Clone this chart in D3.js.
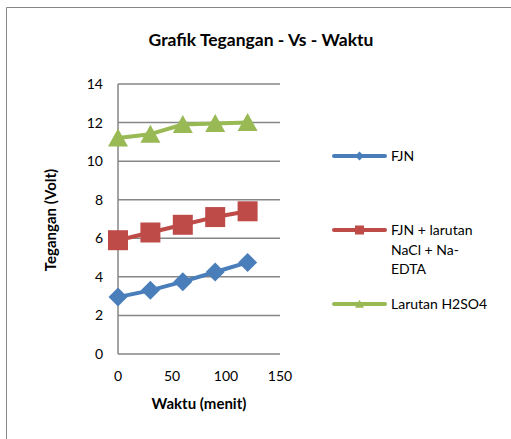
<!DOCTYPE html>
<html>
<head>
<meta charset="utf-8">
<script src="https://cdn.jsdelivr.net/npm/d3@7"></script>
<style>
  body { margin: 0; background: #fff; }
  text { font-family: Lato, "Open Sans", sans-serif; fill: #000; }
</style>
</head>
<body>
<div id="chart"></div>
<script>
// data
const waktu = [0, 30, 60, 90, 120];
const fjn = [2.95, 3.3, 3.75, 4.25, 4.75];
const fjnNacl = [5.9, 6.3, 6.7, 7.1, 7.4];
const h2so4 = [11.2, 11.4, 11.9, 11.95, 12.0];
const yTicks = [0, 2, 4, 6, 8, 10, 12, 14];
const xTicks = [0, 50, 100, 150];

// marker shapes, r = half size in px
const shapes = {
    diamond: r => `M0,${-r}L${r},0L0,${r}L${-r},0Z`,
    square: r => `M${-r},${-r}H${r}V${r}H${-r}Z`,
    triangle: r => `M0,${-r * 0.95}L${r},${r * 0.85}L${-r},${r * 0.85}Z`
};

const series = [
    { name: ["FJN"], values: fjn, color: "#4a7ebb", shape: "diamond", r: 9.5, legY: 156 },
    { name: ["FJN + larutan", "NaCl + Na-", "EDTA"], values: fjnNacl, color: "#be4b48", shape: "square", r: 10, legY: 230 },
    { name: ["Larutan H2SO4"], values: h2so4, color: "#98b954", shape: "triangle", r: 10, legY: 304 }
];

const width = 511, height = 439;
const svg = d3.select("#chart").append("svg")
    .attr("width", width)
    .attr("height", height);

// chart frame (cut off at right & bottom)
svg.append("path")
    .attr("d", "M6.5,439 L6.5,7.5 L511,7.5")
    .attr("fill", "none")
    .attr("stroke", "#868686")
    .attr("stroke-width", 1);

svg.append("text")
    .attr("x", 261)
    .attr("y", 46)
    .attr("text-anchor", "middle")
    .style("font-size", "17.5px")
    .style("font-weight", "bold")
    .text("Grafik Tegangan - Vs - Waktu");

let x = d3.scaleLinear().domain([0, 150]).range([118, 280]);
let y = d3.scaleLinear().domain([0, 14]).range([354, 84]);

// gridlines
svg.append("g")
    .selectAll("line")
    .data(yTicks)
    .enter()
    .append("line")
    .attr("x1", x(0))
    .attr("x2", x(150))
    .attr("y1", d => y(d))
    .attr("y2", d => y(d))
    .attr("stroke", "#868686")
    .attr("stroke-width", 1.5);

// left axis line
svg.append("line")
    .attr("x1", x(0)).attr("x2", x(0))
    .attr("y1", y(14)).attr("y2", y(0))
    .attr("stroke", "#868686")
    .attr("stroke-width", 1.5);

svg.append("g")
    .selectAll("text")
    .data(yTicks)
    .enter()
    .append("text")
    .attr("x", 103)
    .attr("y", d => y(d) + 5)
    .attr("text-anchor", "end")
    .style("font-size", "14px")
    .text(d => d);

svg.append("g")
    .selectAll("text")
    .data(xTicks)
    .enter()
    .append("text")
    .attr("x", d => x(d))
    .attr("y", 381)
    .attr("text-anchor", "middle")
    .style("font-size", "14px")
    .text(d => d);

svg.append("text")
    .attr("transform", "translate(56,220) rotate(-90)")
    .attr("text-anchor", "middle")
    .style("font-size", "15px")
    .style("font-weight", "bold")
    .text("Tegangan (Volt)");

svg.append("text")
    .attr("x", 199)
    .attr("y", 409)
    .attr("text-anchor", "middle")
    .style("font-size", "15px")
    .style("font-weight", "bold")
    .text("Waktu (menit)");

let line = d3.line()
    .x((d, i) => x(waktu[i]))
    .y(d => y(d));

series.forEach(s => {
    let g = svg.append("g");
    g.append("path")
        .attr("d", line(s.values))
        .attr("fill", "none")
        .attr("stroke", s.color)
        .attr("stroke-width", 4)
        .attr("stroke-linejoin", "round");
    g.selectAll("path.mark")
        .data(s.values)
        .enter()
        .append("path")
        .attr("class", "mark")
        .attr("transform", (d, i) => `translate(${x(waktu[i])},${y(d)})`)
        .attr("d", shapes[s.shape](s.r))
        .attr("fill", s.color);

    // legend
    let lg = svg.append("g");
    lg.append("line")
        .attr("x1", 334).attr("x2", 385)
        .attr("y1", s.legY).attr("y2", s.legY)
        .attr("stroke", s.color)
        .attr("stroke-width", 4)
        .attr("stroke-linecap", "round");
    lg.append("path")
        .attr("transform", `translate(359.5,${s.legY})`)
        .attr("d", shapes[s.shape](4.5))
        .attr("fill", s.color);
    lg.append("text")
        .attr("x", 391)
        .attr("y", s.legY + 5)
        .style("font-size", "14px")
        .selectAll("tspan")
        .data(s.name)
        .enter()
        .append("tspan")
        .attr("x", 391)
        .attr("dy", (d, i) => i === 0 ? 0 : 19.5)
        .text(d => d);
});
</script>
</body>
</html>
